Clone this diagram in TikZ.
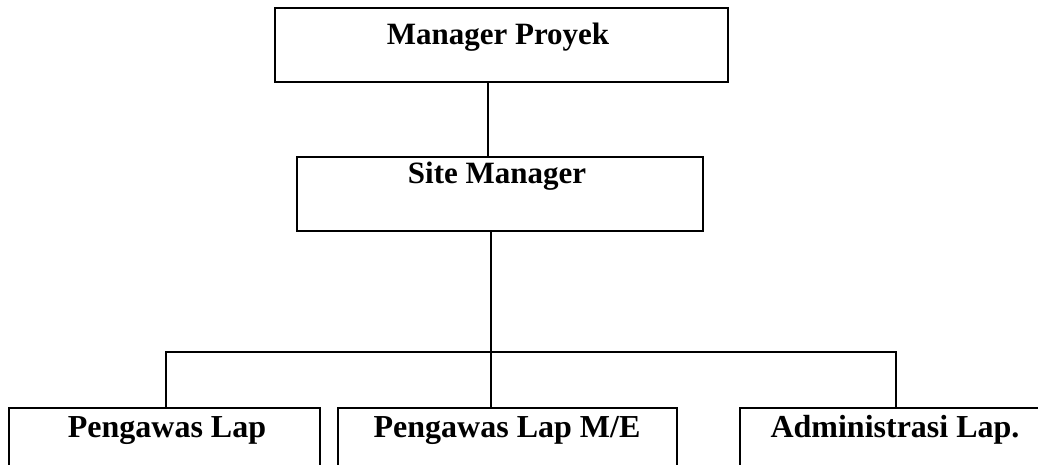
\documentclass[tikz,border=0pt]{standalone}
\usepackage{fontspec}
\setmainfont{Liberation Serif}
\begin{document}
\begin{tikzpicture}[x=1pt,y=-1pt,
  box/.style={draw=black,line width=1.6pt,rectangle,inner sep=0pt,fill=white},
  lbl/.style={anchor=base,inner sep=0pt,font=\bfseries\fontsize{31}{31}\selectfont},
  lblb/.style={anchor=base,inner sep=0pt,font=\bfseries\fontsize{32}{32}\selectfont},
  conn/.style={draw=black,line width=1.5pt}]
\useasboundingbox (0,0) rectangle (1038,465);
\clip (0,0) rectangle (1038,465);
\fill[white] (0,0) rectangle (1038,465);
% boxes
\node[box,minimum width=453pt,minimum height=74pt] (mp) at (501.5,45) {};
\node[box,minimum width=406pt,minimum height=74pt] (sm) at (500,194) {};
\node[box,minimum width=311pt,minimum height=80pt] (pl) at (164.5,448) {};
\node[box,minimum width=339pt,minimum height=80pt] (pme) at (507.5,448) {};
\node[box,minimum width=320pt,minimum height=80pt] (adm) at (900,448) {};
% labels
\node[lbl] (tmp) at (498,45) {Manager Proyek};
\node[lbl] (tsm) at (497,183) {Site Manager};
\node[lblb] (tpl) at (167,437) {Pengawas Lap};
\node[lblb] (tpme) at (507,437) {Pengawas Lap M/E};
\node[lblb] (tadm) at (895,437) {Administrasi Lap.};
% connectors
\coordinate (j) at (491,352);
\draw[conn] (488,82) -- (488,157);
\draw[conn] (sm.south -| j) -- (pme.north -| j);
\draw[conn] (pl.north -| 166,0) -- (166,352) -- (896,352) -- (adm.north -| 896,0);
\end{tikzpicture}
\end{document}
